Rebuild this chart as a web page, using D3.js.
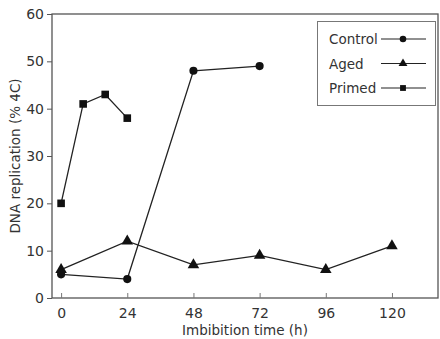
<!DOCTYPE html>
<html>
<head>
<meta charset="utf-8">
<script src="https://cdn.jsdelivr.net/npm/d3@7"></script>
<style>
  body { margin: 0; background: #fff; }
  text { font-family: "DejaVu Sans", sans-serif; fill: #333; }
</style>
</head>
<body>
<script>
var
  // data
  controlX = [0, 24, 48, 72],
  controlY = [5, 4, 48, 49],
  agedX = [0, 24, 48, 72, 96, 120],
  agedY = [6, 12, 7, 9, 6, 11],
  primedX = [0, 8, 16, 24],
  primedY = [20, 41, 43, 38],
  xTicks = [0, 24, 48, 72, 96, 120],
  yTicks = [0, 10, 20, 30, 40, 50, 60],
  seriesNames = ['Control', 'Aged', 'Primed'],

  config = { w: 440, h: 339, left: 52, right: 438, top: 14, bottom: 298 },

  zip = function zip(xs, ys) {
    return xs.map(function (x, i) { return { x: x, y: ys[i] }; });
  },

  series = [
    { name: seriesNames[0], shape: 'circle', pts: zip(controlX, controlY) },
    { name: seriesNames[1], shape: 'triangle', pts: zip(agedX, agedY) },
    { name: seriesNames[2], shape: 'square', pts: zip(primedX, primedY) }
  ],

  symbolFor = function symbolFor(shape) {
    if (shape === 'circle') return d3.symbol().type(d3.symbolCircle).size(52);
    if (shape === 'triangle') return d3.symbol().type(d3.symbolTriangle).size(58);
    return d3.symbol().type(d3.symbolSquare).size(58);
  },

  draw = function draw() {
    var svg = d3.select('body').append('svg')
      .attr('width', config.w).attr('height', config.h);

    var x = d3.scaleLinear().domain([-3.3, 136.7]).range([config.left, config.right]);
    var y = d3.scaleLinear().domain([0, 60]).range([config.bottom, config.top]);

    // frame
    svg.append('rect')
      .attr('x', config.left).attr('y', config.top)
      .attr('width', config.right - config.left).attr('height', config.bottom - config.top)
      .attr('fill', 'none').attr('stroke', '#555').attr('stroke-width', 1.3);

    // x axis, ticks pointing inward
    var xAxis = svg.append('g')
      .attr('transform', 'translate(0,' + config.bottom + ')')
      .call(d3.axisBottom(x).tickValues(xTicks).tickSize(-5).tickPadding(10));
    xAxis.select('.domain').remove();
    xAxis.selectAll('line').attr('stroke', '#777');
    xAxis.selectAll('text').attr('font-size', 14).attr('fill', '#333');

    // y axis, ticks outward
    var yAxis = svg.append('g')
      .attr('transform', 'translate(' + config.left + ',0)')
      .call(d3.axisLeft(y).tickValues(yTicks).tickSize(5).tickPadding(3));
    yAxis.select('.domain').remove();
    yAxis.selectAll('line').attr('stroke', '#555');
    yAxis.selectAll('text').attr('font-size', 14).attr('fill', '#333');

    // axis titles
    svg.append('text')
      .attr('x', (config.left + config.right) / 2).attr('y', 335)
      .attr('text-anchor', 'middle').attr('font-size', 13.5)
      .text('Imbibition time (h)');
    svg.append('text')
      .attr('transform', 'translate(20,' + (config.top + config.bottom) / 2 + ') rotate(-90)')
      .attr('text-anchor', 'middle').attr('font-size', 13.5)
      .text('DNA replication (% 4C)');

    var line = d3.line().x(function (d) { return x(d.x); }).y(function (d) { return y(d.y); });

    series.forEach(function (s) {
      svg.append('path')
        .attr('d', line(s.pts))
        .attr('fill', 'none').attr('stroke', '#222').attr('stroke-width', 1.3);
      svg.selectAll(null).data(s.pts).enter().append('path')
        .attr('d', symbolFor(s.shape)())
        .attr('transform', function (d) { return 'translate(' + x(d.x) + ',' + y(d.y) + ')'; })
        .attr('fill', '#111');
    });

    // legend
    var lg = svg.append('g');
    lg.append('rect')
      .attr('x', 317.5).attr('y', 21.5).attr('width', 118).attr('height', 84)
      .attr('fill', '#fff').attr('stroke', '#777').attr('stroke-width', 1);
    series.forEach(function (s, i) {
      var cy = 39 + i * 24.5;
      lg.append('text').attr('x', 329).attr('y', cy + 5)
        .attr('font-size', 13.5).text(s.name);
      lg.append('line').attr('x1', 381).attr('x2', 426).attr('y1', cy).attr('y2', cy)
        .attr('stroke', '#222').attr('stroke-width', 1.2);
      lg.append('path').attr('d', symbolFor(s.shape).size(34)())
        .attr('transform', 'translate(403,' + cy + ')').attr('fill', '#111');
    });
  };

draw();
</script>
</body>
</html>
